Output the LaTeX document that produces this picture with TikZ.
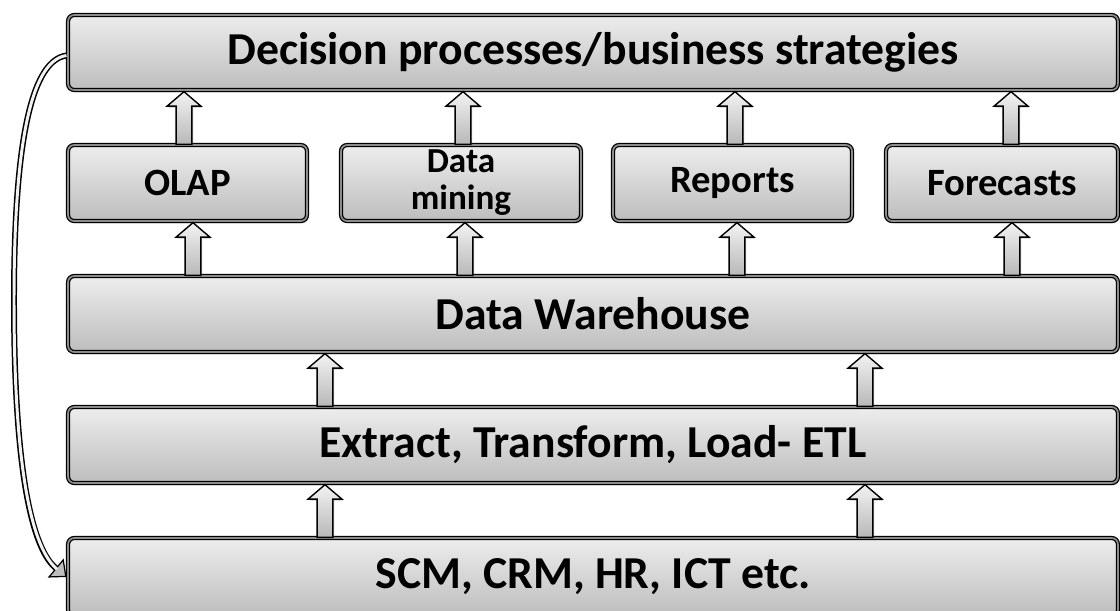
\documentclass[tikz,border=0pt]{standalone}
\usepackage{fontspec}
\setmainfont{Carlito}
\usetikzlibrary{shadows,arrows.meta,calc}

\tikzset{
  layer/.style={draw=black, line width=0.7pt, double=black!45, double distance=1pt,
    rounded corners=3.5pt, top color=black!7, bottom color=black!26,
    drop shadow={shadow xshift=0.9pt, shadow yshift=-1.3pt, opacity=0.3},
    font=\bfseries, inner sep=0pt, align=center},
  liftarrow/.style={draw=black, line width=0.8pt, top color=black!5, bottom color=black!28,
    drop shadow={shadow xshift=0.8pt, shadow yshift=-1pt, opacity=0.25}},
  bigtext/.style={font=\fontsize{26}{28}\selectfont\bfseries},
  midtext/.style={font=\fontsize{22}{24}\selectfont\bfseries},
  pairtext/.style={font=\fontsize{20}{21}\selectfont\bfseries},
}

% hollow block arrow at horizontal position #1 from the top of node #2 up to the bottom of node #3
\newcommand\blockarrow[3]{%
  \path[liftarrow] let \p1=(#1,0 |- #2.north), \p2=(#1,0 |- #3.south) in
    (\x1-4.5pt,\y1) -- (\x1-4.5pt,\y2-8.8pt) -- (\x1-9.6pt,\y2-8.8pt) -- (\x1,\y2-0.6pt)
    -- (\x1+9.6pt,\y2-8.8pt) -- (\x1+4.5pt,\y2-8.8pt) -- (\x1+4.5pt,\y1) -- cycle;}

\begin{document}
\begin{tikzpicture}[x=0.02cm, y=-0.02cm]
\path[use as bounding box, clip] (0,0) rectangle (1120,610);

% layers
\node[layer, bigtext, minimum width=21cm, minimum height=1.5cm] (top) at (593,52.5)
  {Decision processes/business strategies};
\node[layer, midtext, minimum width=4.78cm, minimum height=1.52cm] (olap) at (187.5,183)
  {OLAP};
\node[layer, pairtext, minimum width=4.8cm, minimum height=1.52cm] (mining) at (461,183)
  {Data\\mining};
\node[layer, midtext, minimum width=4.78cm, minimum height=1.52cm] (reports) at (732.5,183)
  {Reports};
\node[layer, midtext, minimum width=4.64cm, minimum height=1.52cm] (forecasts) at (1002,183)
  {Forecasts};
\node[layer, bigtext, minimum width=21cm, minimum height=1.52cm] (dw) at (593,314)
  {Data Warehouse};
\node[layer, bigtext, minimum width=21cm, minimum height=1.52cm] (etl) at (593,445)
  {Extract, Transform, Load- ETL};
\node[layer, bigtext, minimum width=21cm, minimum height=1.56cm] (scm) at (593,577)
  {SCM, CRM, HR, ICT etc.};

% upward flows
\blockarrow{184}{olap}{top}
\blockarrow{463}{mining}{top}
\blockarrow{735}{reports}{top}
\blockarrow{1011}{forecasts}{top}
\blockarrow{193}{dw}{olap}
\blockarrow{465}{dw}{mining}
\blockarrow{737}{dw}{reports}
\blockarrow{1012}{dw}{forecasts}
\blockarrow{325}{etl}{dw}
\blockarrow{865}{etl}{dw}
\blockarrow{325}{scm}{etl}
\blockarrow{865}{scm}{etl}

% feedback from the strategy level back to the source systems
\draw[line width=3.4pt, black,
      -{Triangle[length=8pt, width=14pt, line width=0.7pt, fill=black!25]},
      postaction={draw, -, line width=1.7pt, black!5, shorten >=7pt}]
  ($(top.west)+(-1,3)$) .. controls (34,60) and (14,130) .. (14,300)
  .. controls (14,450) and (28,545) .. ($(scm.west)+(-1,0)$);
\end{tikzpicture}
\end{document}
